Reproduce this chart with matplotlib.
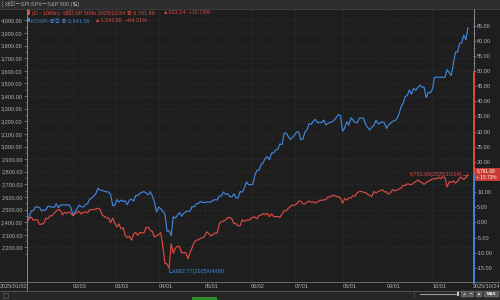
import numpy as np
import pandas as pd
import matplotlib
matplotlib.use('Agg')
import matplotlib.pyplot as plt
from matplotlib.patches import Rectangle
from matplotlib.lines import Line2D

plt.rcParams['font.family'] = ['Liberation Sans', 'Noto Sans CJK KR', 'DejaVu Sans']

# ---------------- data ----------------
spx_dates = [
    '2025-01-02', '2025-01-03', '2025-01-06', '2025-01-07', '2025-01-08', '2025-01-10', '2025-01-13', '2025-01-14',
    '2025-01-15', '2025-01-16', '2025-01-17', '2025-01-21', '2025-01-22', '2025-01-23', '2025-01-24', '2025-01-27',
    '2025-01-28', '2025-01-29', '2025-01-30', '2025-01-31', '2025-02-03', '2025-02-04', '2025-02-05', '2025-02-06',
    '2025-02-07', '2025-02-10', '2025-02-11', '2025-02-12', '2025-02-13', '2025-02-14', '2025-02-18', '2025-02-19',
    '2025-02-20', '2025-02-21', '2025-02-24', '2025-02-25', '2025-02-26', '2025-02-27', '2025-02-28', '2025-03-03',
    '2025-03-04', '2025-03-05', '2025-03-06', '2025-03-07', '2025-03-10', '2025-03-11', '2025-03-12', '2025-03-13',
    '2025-03-14', '2025-03-17', '2025-03-18', '2025-03-19', '2025-03-20', '2025-03-21', '2025-03-24', '2025-03-25',
    '2025-03-26', '2025-03-27', '2025-03-28', '2025-03-31', '2025-04-01', '2025-04-02', '2025-04-03', '2025-04-04',
    '2025-04-07', '2025-04-08', '2025-04-09', '2025-04-10', '2025-04-11', '2025-04-14', '2025-04-15', '2025-04-16',
    '2025-04-17', '2025-04-21', '2025-04-22', '2025-04-23', '2025-04-24', '2025-04-25', '2025-04-28', '2025-04-29',
    '2025-04-30', '2025-05-01', '2025-05-02', '2025-05-05', '2025-05-06', '2025-05-07', '2025-05-08', '2025-05-09',
    '2025-05-12', '2025-05-13', '2025-05-14', '2025-05-15', '2025-05-16', '2025-05-19', '2025-05-20', '2025-05-21',
    '2025-05-22', '2025-05-23', '2025-05-27', '2025-05-28', '2025-05-29', '2025-05-30', '2025-06-02', '2025-06-03',
    '2025-06-04', '2025-06-05', '2025-06-06', '2025-06-09', '2025-06-10', '2025-06-11', '2025-06-12', '2025-06-13',
    '2025-06-16', '2025-06-17', '2025-06-18', '2025-06-20', '2025-06-23', '2025-06-24', '2025-06-25', '2025-06-26',
    '2025-06-27', '2025-06-30', '2025-07-01', '2025-07-02', '2025-07-03', '2025-07-07', '2025-07-08', '2025-07-09',
    '2025-07-10', '2025-07-11', '2025-07-14', '2025-07-15', '2025-07-16', '2025-07-17', '2025-07-18', '2025-07-21',
    '2025-07-22', '2025-07-23', '2025-07-24', '2025-07-25', '2025-07-28', '2025-07-29', '2025-07-30', '2025-07-31',
    '2025-08-01', '2025-08-04', '2025-08-05', '2025-08-06', '2025-08-07', '2025-08-08', '2025-08-11', '2025-08-12',
    '2025-08-13', '2025-08-14', '2025-08-15', '2025-08-18', '2025-08-19', '2025-08-20', '2025-08-21', '2025-08-22',
    '2025-08-25', '2025-08-26', '2025-08-27', '2025-08-28', '2025-08-29', '2025-09-02', '2025-09-03', '2025-09-04',
    '2025-09-05', '2025-09-08', '2025-09-09', '2025-09-10', '2025-09-11', '2025-09-12', '2025-09-15', '2025-09-16',
    '2025-09-17', '2025-09-18', '2025-09-19', '2025-09-22', '2025-09-23', '2025-09-24', '2025-09-25', '2025-09-26',
    '2025-09-29', '2025-09-30', '2025-10-01', '2025-10-02', '2025-10-03', '2025-10-06', '2025-10-07', '2025-10-08',
    '2025-10-09', '2025-10-10', '2025-10-13', '2025-10-14', '2025-10-15', '2025-10-16', '2025-10-17', '2025-10-20',
    '2025-10-21', '2025-10-22', '2025-10-23', '2025-10-24']
spx_close = [
    5868.55, 5942.47, 5975.38, 5909.03, 5918.25, 5827.04, 5836.22, 5842.91,
    5949.91, 5937.34, 5996.66, 6049.24, 6086.37, 6118.71, 6101.24, 6012.28,
    6067.70, 6039.31, 6071.17, 6040.53, 5994.57, 6037.88, 6061.48, 6083.57,
    6025.99, 6066.44, 6068.50, 6051.97, 6115.07, 6114.63, 6129.58, 6144.15,
    6117.52, 6013.13, 5983.25, 5955.25, 5956.06, 5861.57, 5954.50, 5849.72,
    5778.15, 5842.63, 5738.52, 5770.20, 5614.56, 5572.07, 5599.30, 5521.52,
    5638.94, 5675.12, 5614.66, 5675.29, 5662.89, 5667.56, 5767.57, 5776.65,
    5712.20, 5693.31, 5580.94, 5611.85, 5633.07, 5670.97, 5396.52, 5074.08,
    5062.25, 4982.77, 5456.90, 5268.05, 5363.36, 5405.97, 5396.63, 5275.70,
    5282.70, 5158.20, 5287.76, 5375.86, 5484.77, 5525.21, 5528.75, 5560.83,
    5569.06, 5604.14, 5686.67, 5650.38, 5606.91, 5631.28, 5663.94, 5659.91,
    5844.19, 5886.55, 5892.58, 5916.93, 5958.38, 5963.60, 5940.46, 5844.61,
    5842.01, 5802.82, 5921.54, 5888.55, 5912.17, 5911.69, 5935.94, 5970.37,
    5970.81, 5939.30, 6000.36, 6005.88, 6038.81, 6022.24, 6045.26, 5976.97,
    6033.11, 5982.72, 5980.87, 5967.84, 6025.17, 6092.18, 6092.16, 6141.02,
    6173.07, 6204.95, 6198.01, 6227.42, 6279.35, 6229.98, 6225.52, 6263.26,
    6280.46, 6259.75, 6268.56, 6243.76, 6263.70, 6297.36, 6296.79, 6305.60,
    6309.62, 6358.91, 6363.35, 6388.64, 6389.77, 6370.86, 6362.90, 6339.39,
    6238.01, 6329.94, 6299.19, 6345.06, 6340.00, 6389.45, 6373.45, 6445.76,
    6466.58, 6468.54, 6449.80, 6449.15, 6411.37, 6395.78, 6370.17, 6466.91,
    6439.32, 6465.94, 6481.40, 6501.86, 6460.26, 6415.54, 6448.26, 6502.08,
    6481.50, 6495.15, 6512.61, 6532.04, 6587.47, 6584.29, 6615.28, 6606.76,
    6600.35, 6631.96, 6664.36, 6693.75, 6656.92, 6637.97, 6604.72, 6643.70,
    6661.21, 6688.46, 6711.20, 6715.35, 6715.79, 6740.28, 6714.59, 6753.72,
    6735.11, 6552.51, 6654.72, 6644.31, 6671.06, 6629.07, 6664.01, 6735.13,
    6735.35, 6699.40, 6738.44, 6791.69]

kospi_dates = [
    '2025-01-02', '2025-01-03', '2025-01-06', '2025-01-07', '2025-01-08', '2025-01-09', '2025-01-10', '2025-01-13',
    '2025-01-14', '2025-01-15', '2025-01-16', '2025-01-17', '2025-01-20', '2025-01-21', '2025-01-22', '2025-01-23',
    '2025-01-24', '2025-01-31', '2025-02-03', '2025-02-04', '2025-02-05', '2025-02-06', '2025-02-07', '2025-02-10',
    '2025-02-11', '2025-02-12', '2025-02-13', '2025-02-14', '2025-02-17', '2025-02-18', '2025-02-19', '2025-02-20',
    '2025-02-21', '2025-02-24', '2025-02-25', '2025-02-26', '2025-02-27', '2025-02-28', '2025-03-04', '2025-03-05',
    '2025-03-06', '2025-03-07', '2025-03-10', '2025-03-11', '2025-03-12', '2025-03-13', '2025-03-14', '2025-03-17',
    '2025-03-18', '2025-03-19', '2025-03-20', '2025-03-21', '2025-03-24', '2025-03-25', '2025-03-26', '2025-03-27',
    '2025-03-28', '2025-03-31', '2025-04-01', '2025-04-02', '2025-04-03', '2025-04-04', '2025-04-07', '2025-04-08',
    '2025-04-09', '2025-04-10', '2025-04-11', '2025-04-14', '2025-04-15', '2025-04-16', '2025-04-17', '2025-04-18',
    '2025-04-21', '2025-04-22', '2025-04-23', '2025-04-24', '2025-04-25', '2025-04-28', '2025-04-29', '2025-04-30',
    '2025-05-02', '2025-05-07', '2025-05-08', '2025-05-09', '2025-05-12', '2025-05-13', '2025-05-14', '2025-05-15',
    '2025-05-16', '2025-05-19', '2025-05-20', '2025-05-21', '2025-05-22', '2025-05-23', '2025-05-26', '2025-05-27',
    '2025-05-28', '2025-05-29', '2025-05-30', '2025-06-02', '2025-06-04', '2025-06-05', '2025-06-09', '2025-06-10',
    '2025-06-11', '2025-06-12', '2025-06-13', '2025-06-16', '2025-06-17', '2025-06-18', '2025-06-19', '2025-06-20',
    '2025-06-23', '2025-06-24', '2025-06-25', '2025-06-26', '2025-06-27', '2025-06-30', '2025-07-01', '2025-07-02',
    '2025-07-03', '2025-07-04', '2025-07-07', '2025-07-08', '2025-07-09', '2025-07-10', '2025-07-11', '2025-07-14',
    '2025-07-15', '2025-07-16', '2025-07-17', '2025-07-18', '2025-07-21', '2025-07-22', '2025-07-23', '2025-07-24',
    '2025-07-25', '2025-07-28', '2025-07-29', '2025-07-30', '2025-07-31', '2025-08-01', '2025-08-04', '2025-08-05',
    '2025-08-06', '2025-08-07', '2025-08-08', '2025-08-11', '2025-08-12', '2025-08-13', '2025-08-14', '2025-08-18',
    '2025-08-19', '2025-08-20', '2025-08-21', '2025-08-22', '2025-08-25', '2025-08-26', '2025-08-27', '2025-08-28',
    '2025-08-29', '2025-09-01', '2025-09-02', '2025-09-03', '2025-09-04', '2025-09-05', '2025-09-08', '2025-09-09',
    '2025-09-10', '2025-09-11', '2025-09-12', '2025-09-15', '2025-09-16', '2025-09-17', '2025-09-18', '2025-09-19',
    '2025-09-22', '2025-09-23', '2025-09-24', '2025-09-25', '2025-09-26', '2025-09-29', '2025-09-30', '2025-10-01',
    '2025-10-02', '2025-10-10', '2025-10-13', '2025-10-14', '2025-10-15', '2025-10-16', '2025-10-17', '2025-10-20',
    '2025-10-21', '2025-10-22', '2025-10-23', '2025-10-24']
kospi_close = [
    2398.94, 2441.92, 2488.64, 2492.10, 2521.90, 2521.05, 2515.78, 2489.56,
    2497.42, 2496.81, 2527.49, 2523.55, 2520.05, 2518.03, 2547.06, 2515.24,
    2536.80, 2517.37, 2453.95, 2481.69, 2509.27, 2536.75, 2521.92, 2521.27,
    2539.05, 2548.39, 2583.17, 2591.05, 2610.42, 2626.81, 2671.52, 2654.58,
    2652.10, 2645.27, 2641.09, 2641.10, 2621.75, 2532.78, 2580.70, 2558.13,
    2576.16, 2563.48, 2570.39, 2537.60, 2574.82, 2583.26, 2566.36, 2610.69,
    2612.34, 2628.62, 2637.10, 2643.13, 2632.22, 2616.80, 2643.00, 2607.15,
    2557.98, 2481.12, 2521.39, 2505.86, 2486.70, 2465.42, 2328.20, 2334.23,
    2293.70, 2445.06, 2432.72, 2455.89, 2477.41, 2447.40, 2470.39, 2483.42,
    2488.42, 2486.64, 2525.56, 2522.33, 2546.30, 2548.86, 2565.42, 2556.61,
    2559.79, 2573.80, 2578.98, 2577.27, 2607.33, 2608.42, 2640.57, 2621.01,
    2626.87, 2603.42, 2601.00, 2625.58, 2593.67, 2592.09, 2644.40, 2637.22,
    2670.23, 2720.64, 2697.67, 2698.97, 2770.84, 2812.05, 2855.77, 2871.85,
    2907.04, 2920.03, 2894.62, 2946.66, 2950.30, 2972.74, 2977.74, 3021.84,
    3014.47, 3103.64, 3108.35, 3079.56, 3055.94, 3071.70, 3089.65, 3116.27,
    3116.00, 3054.28, 3059.47, 3114.95, 3133.74, 3183.23, 3175.77, 3202.03,
    3215.28, 3187.42, 3192.25, 3188.07, 3210.81, 3169.94, 3183.77, 3190.45,
    3196.05, 3209.52, 3230.57, 3254.47, 3245.44, 3119.41, 3147.75, 3198.00,
    3169.09, 3227.68, 3210.01, 3189.91, 3189.00, 3224.37, 3225.66, 3177.28,
    3151.56, 3130.09, 3153.75, 3168.73, 3209.86, 3179.36, 3187.09, 3196.32,
    3186.01, 3142.93, 3172.35, 3184.42, 3200.83, 3205.12, 3219.59, 3260.05,
    3314.53, 3344.70, 3395.54, 3407.31, 3449.62, 3413.25, 3461.30, 3445.24,
    3468.65, 3486.19, 3472.14, 3471.11, 3386.05, 3431.21, 3424.60, 3455.83,
    3549.21, 3610.60, 3584.55, 3561.81, 3657.28, 3748.37, 3748.89, 3814.69,
    3823.84, 3883.68, 3845.56, 3941.59]

kospi_levels = [2200, 2300, 2400, 2500, 2600, 2700, 2800, 2900, 3000, 3100,
                3200, 3300, 3400, 3500, 3600, 3700, 3800, 3900, 4000]
pct_levels = [-15, -10, -5, 0, 5, 10, 15, 20, 25, 30, 35, 40, 45, 50, 55, 60, 65]
month_dates = ['2025-02-03', '2025-03-03', '2025-04-01', '2025-05-01', '2025-06-02',
               '2025-07-01', '2025-08-01', '2025-09-01', '2025-10-01']
month_labels = ['02/03', '03/03', '04/01', '05/01', '06/02', '07/01', '08/01', '09/01', '10/01']
first_label = '2025/01/02'
last_label = '2025/10/24'

# ---------------- styles ----------------
BG = '#1e1e1e'
BLUE = '#3f86dc'
RED = '#dc4a44'
TXT = '#b4b4b4'
AXC = '#8a8a8a'
GRID = '#3a3a3a'
W, H = 500, 300

def fx(x):
    return x / W

def fy(y):
    return 1 - y / H

# ---------------- series ----------------
start = np.datetime64('2025-01-02')
s = pd.Series(spx_close, index=pd.to_datetime(spx_dates))
k = pd.Series(kospi_close, index=pd.to_datetime(kospi_dates))
union = s.index.union(k.index)
s = s.reindex(union).ffill()
k = k.reindex(union).ffill()
x = np.busday_count(start, union.values.astype('datetime64[D]'))
s0, k0 = spx_close[0], kospi_close[0]
spct = (s.values / s0 - 1) * 100
kpct = (k.values / k0 - 1) * 100

fig = plt.figure(figsize=(5, 3), dpi=100, facecolor=BG)
ax = fig.add_axes([fx(27), fy(282), (473 - 27) / W, (282 - 9) / H], facecolor=BG)
ax.set_xlim(0, 213.4)
ax.set_ylim(-19.7, 70.5)

mx = np.busday_count(start, np.array(month_dates, dtype='datetime64[D]'))
ax.set_xticks(mx)
ax.tick_params(axis='x', length=0, labelbottom=False)
ax.grid(True, color=GRID, lw=0.5, ls=(0, (1, 2)))

ax.plot(x, kpct, color=BLUE, lw=0.85, solid_joinstyle='miter')
ax.plot(x, spct, color=RED, lw=0.85, solid_joinstyle='miter')

kt = [(v / k0 - 1) * 100 for v in kospi_levels]
ax.set_yticks(kt)
ax.set_yticklabels([f'{v:,.2f}' for v in kospi_levels])
ax.set_yticks([(v / k0 - 1) * 100 for v in np.arange(2150, 4050, 100)], minor=True)
ax.tick_params(axis='y', which='major', length=2.2, width=0.5, color=AXC, labelsize=4,
               labelcolor=TXT, pad=0.8)
ax.tick_params(axis='y', which='minor', length=1.2, width=0.4, color=AXC)
for sp in ax.spines.values():
    sp.set_visible(False)

# the last-value tag on the right axis covers the tick label at the tag's level
tag_pct = (spx_close[-1] / s0 - 1) * 100
ax2 = ax.twinx()
ax2.set_ylim(ax.get_ylim())
ax2.set_yticks(pct_levels)
ax2.set_yticklabels(['' if abs(v - tag_pct) < 2.5 else f'{v:.2f}' for v in pct_levels])
ax2.set_yticks(np.arange(-17.5, 70, 5), minor=True)
ax2.tick_params(axis='y', which='major', length=2.2, width=0.5, color=AXC, labelsize=4,
                labelcolor=TXT, pad=0.8)
ax2.tick_params(axis='y', which='minor', length=1.2, width=0.4, color=AXC)
for sp in ax2.spines.values():
    sp.set_visible(False)

# x labels
trans = ax.get_xaxis_transform()
yl = -4.6 / 273
ax.text(0, yl, first_label, transform=trans, ha='right', va='center', fontsize=4, color=TXT, clip_on=False)
for xv, lab in zip(mx, month_labels):
    ax.text(xv, yl, lab, transform=trans, ha='left', va='center', fontsize=4, color=TXT, clip_on=False)
ax.text(213.4, yl, last_label, transform=trans, ha='left', va='center', fontsize=4, color=TXT, clip_on=False)

# annotations
pxx = 213.4 / 446
pxy = 90.2 / 273
imin = int(np.argmin(spct))
xm, ym = x[imin], spct[imin]
ax.plot([xm, xm, xm + 2.5 * pxx], [ym, ym - 3.5 * pxy, ym - 3.5 * pxy], color=BLUE, lw=0.5)
ax.text(xm + 2.8 * pxx, ym - 3.5 * pxy, f'{spx_close[int(np.argmin(spx_close))]:,.2f}(2025/04/08)',
        color=BLUE, fontsize=4, va='center', ha='left')
xe, ye = x[-1], spct[-1]
ax.plot([xe - 5 * pxx, xe], [ye, ye], color=RED, lw=0.5)
ax.text(xe - 5.3 * pxx, ye, f'{spx_close[-1]:,.2f}(2025/10/24)', color=RED, fontsize=4,
        va='center', ha='right')

# ---------------- chrome ----------------
def hline(y, x0, x1, c, lw=0.6):
    fig.add_artist(Line2D([fx(x0), fx(x1)], [fy(y), fy(y)], transform=fig.transFigure, color=c, lw=lw))

def vline(xp, y0, y1, c, lw=0.6):
    fig.add_artist(Line2D([fx(xp), fx(xp)], [fy(y0), fy(y1)], transform=fig.transFigure, color=c, lw=lw))

def rect(x0, y0, x1, y1, fc, ec='none', lw=0.4):
    fig.add_artist(Rectangle((fx(x0), fy(y1)), fx(x1) - fx(x0), fy(y0) - fy(y1),
                             transform=fig.transFigure, facecolor=fc, edgecolor=ec, lw=lw))

# title bar
rect(0, 0, 500, 8.5, '#2d2d2d')
hline(8.5, 0, 500, '#4a4a4a', 0.5)
for gy in (2.3, 4.3, 6.3):
    rect(1.6, gy - 0.5, 2.6, gy + 0.5, '#8a8a8a')
fig.text(fx(5), fy(4.4), '해외－SPI:SPX－S&P 500 (일)', fontsize=4, color='#a8a8a8', va='center', ha='left')

# axis lines
vline(27, 8.5, 290, AXC, 0.7)
hline(282, 0, 500, '#6e6e6e', 0.7)
hline(290.5, 0, 500, '#5a5a5a', 0.6)
vline(473.5, 8.5, 72, AXC, 0.7)
ye_px = 222.3 - spct[-1] * 3.025
vline(473.5, 72, ye_px, RED, 1.4)
vline(473.5, ye_px, 283, BLUE, 1.4)

# legend rows
rect(28.2, 10.2, 29.6, 14.8, RED)
fig.text(fx(32), fy(12.5), '(D - 10Min) :해외-SP 500b 2025/10/24 종:6,791.69', fontsize=4,
         color=RED, va='center', ha='left')
fig.text(fx(163), fy(12.5), '▲923.14  +15.73%', fontsize=4, color=RED, va='center', ha='left')
rect(28.2, 17.6, 29.6, 22.2, BLUE)
fig.text(fx(31), fy(20), 'KOSPI-종합 종:3,941.59', fontsize=4, color=BLUE, va='center', ha='left')
fig.text(fx(95), fy(20), '▲1,542.65  +64.31%', fontsize=4, color=RED, va='center', ha='left')

# right tag
rect(474.5, ye_px - 7, 500, ye_px + 6.5, '#c83a34')
fig.text(fx(476.5), fy(ye_px - 3.6), f'{spx_close[-1]:,.2f}', fontsize=3.4, color='white', va='center', ha='left')
fig.text(fx(476.5), fy(ye_px + 3.0), '+ 15.73%', fontsize=3.4, color='white', va='center', ha='left')

# scrollbar area
rect(0, 291, 500, 300, '#262626')
rect(3, 292.5, 7.5, 297.5, '#2a2a2a', '#6a6a6a', 0.4)
rect(192, 296.8, 217, 300, '#2f8f2f')
vline(414, 291.5, 297, '#555555', 0.5)
hline(293.5, 420, 457, '#9a9a9a', 0.8)
rect(456.5, 291, 459, 296, '#d0d0d0')
for bx0, bx1, lab in [(461, 467, '+'), (468, 474, '−'), (476, 482, '■'), (484, 499, 'MAX')]:
    rect(bx0, 291, bx1, 296.5, '#5c5c5c', '#7a7a7a', 0.3)
    fig.text(fx((bx0 + bx1) / 2), fy(293.8), lab, fontsize=3.2 if lab != '■' else 2.5,
             color='white', va='center', ha='center', fontweight='bold')

fig.savefig('out.png', dpi=100, facecolor=BG)
